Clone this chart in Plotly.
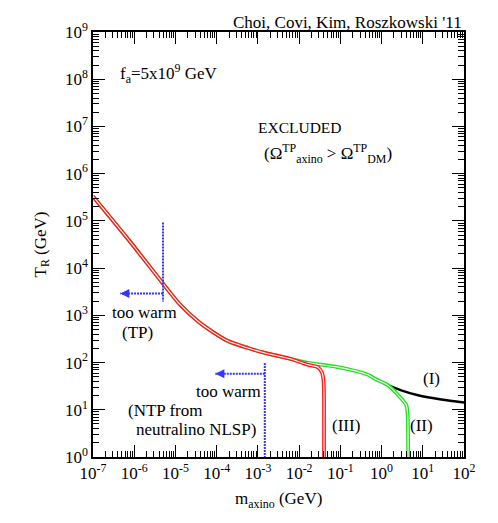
import math
import plotly.graph_objects as go

# ---- data ----
m_shared = [1e-7, 7.06e-7, 4.99e-6, 1.29e-5, 3.52e-5, 8.15e-5, 1.88e-4, 5.75e-4, 1.49e-3, 6.37e-3]
T_shared = [3.30e5, 4.13e4, 4.70e3, 1.70e3, 748, 441, 285, 203, 160, 119]

m_I_tail = [1.64e-2, 8.79e-2, 0.47, 0.68, 1.19, 3.01, 7.67, 28.2, 100]
T_I_tail = [98.4, 80, 55.2, 47.0, 35.7, 25.8, 20.3, 16.5, 14.3]

m_II_tail = [1.64e-2, 8.79e-2, 0.47, 0.68, 1.44, 3.01, 3.99, 4.27, 4.39, 4.39]
T_II_tail = [98.4, 80, 55.2, 45.5, 32.9, 17.3, 12.5, 8.4, 3.0, 0.5]

m_III_tail = [1.64e-2, 2.88e-2, 3.60e-2, 3.91e-2, 4.02e-2, 4.02e-2, 4.02e-2]
T_III_tail = [89.6, 79.3, 60.8, 41.3, 17.3, 5.0, 0.5]

# "too warm" limits
m_tp_limit = [4.99e-6, 4.99e-6]
T_tp_limit = [9.3e4, 1.97e3]
m_tp_arrow = [4.99e-6, 4.6e-7]
T_tp_arrow = [2.9e3, 2.9e3]

m_ntp_limit = [1.47e-3, 1.47e-3]
T_ntp_limit = [98, 0.5]
m_ntp_arrow = [1.47e-3, 9.3e-5]
T_ntp_arrow = [58, 58]

x_tickvals = [1e-7, 1e-6, 1e-5, 1e-4, 1e-3, 1e-2, 1e-1, 1e0, 1e1, 1e2]
x_ticktext = ["10<sup>-7</sup>", "10<sup>-6</sup>", "10<sup>-5</sup>", "10<sup>-4</sup>", "10<sup>-3</sup>",
              "10<sup>-2</sup>", "10<sup>-1</sup>", "10<sup>0</sup>", "10<sup>1</sup>", "10<sup>2</sup>"]
y_tickvals = [1e0, 1e1, 1e2, 1e3, 1e4, 1e5, 1e6, 1e7, 1e8, 1e9]
y_ticktext = ["10<sup>0</sup>", "10<sup>1</sup>", "10<sup>2</sup>", "10<sup>3</sup>", "10<sup>4</sup>",
              "10<sup>5</sup>", "10<sup>6</sup>", "10<sup>7</sup>", "10<sup>8</sup>", "10<sup>9</sup>"]

FONT = "Liberation Serif"
RED = "#ff1a1a"
GREEN = "#22e022"
BLUE = "#3535ff"

fig = go.Figure()

def add_line(x, y, color, width, dash="solid", shape="spline"):
    fig.add_trace(go.Scatter(x=x, y=y, mode="lines",
                             line=dict(color=color, width=width, dash=dash, shape=shape, smoothing=0.8),
                             hoverinfo="skip", showlegend=False))

# (I) black
add_line(m_shared + m_I_tail, T_shared + T_I_tail, "black", 2.5)
# (II) green double line
add_line(m_shared + m_II_tail, T_shared + T_II_tail, GREEN, 3.8)
add_line(m_shared + m_II_tail, T_shared + T_II_tail, "white", 1.1)
# (III) red double line
add_line(m_shared + m_III_tail, T_shared + T_III_tail, RED, 3.8)
add_line(m_shared + m_III_tail, T_shared + T_III_tail, "white", 1.1)

# blue limits
add_line(m_tp_limit, T_tp_limit, BLUE, 2, dash="2px,1px", shape="linear")
add_line(m_tp_arrow, T_tp_arrow, BLUE, 2, dash="2px,1px", shape="linear")
add_line(m_ntp_limit, T_ntp_limit, BLUE, 2, dash="2px,1px", shape="linear")
add_line(m_ntp_arrow, T_ntp_arrow, BLUE, 2, dash="2px,1px", shape="linear")

annotations = []
for mx, ty in [(m_tp_arrow[1], T_tp_arrow[1]), (m_ntp_arrow[1], T_ntp_arrow[1])]:
    annotations.append(dict(x=math.log10(mx), y=math.log10(ty), xref="x", yref="y",
                            ax=8, ay=0, showarrow=True, arrowhead=2, arrowsize=0.9,
                            arrowwidth=2, arrowcolor=BLUE, text=""))

def txt(x, y, s, size=17, xanchor="center", yanchor="middle", xref="x", yref="y", **kw):
    d = dict(x=x, y=y, text=s, showarrow=False, xref=xref, yref=yref, xanchor=xanchor,
             yanchor=yanchor, font=dict(family=FONT, size=size, color="black"))
    d.update(kw)
    annotations.append(d)

txt(1, 1, "Choi, Covi, Kim, Roszkowski '11", xref="paper", yref="paper", xanchor="right", yshift=10)
txt(-6.39, 8.12, "f<sub>a</sub>=5x10<sup>9</sup> GeV", xanchor="left")
txt(-1.98, 6.97, "EXCLUDED", size=15.5)
txt(-1.30, 6.42, "(Ω<sup>TP</sup><sub>axino</sub> &gt; Ω<sup>TP</sup><sub>DM</sub>)")
txt(-5.74, 3.06, "too warm")
txt(-5.93, 2.64, "(TP)")
txt(-2.875, 1.385, "too warm", xanchor="right")
txt(-5.253, 0.99, "(NTP from")
txt(-4.513, 0.585, "neutralino NLSP)")
txt(1.2, 1.66, "(I)")
txt(0.98, 0.67, "(II)")
txt(-0.862, 0.67, "(III)")
txt(0.5, 0, "m<sub>axino</sub> (GeV)", xref="paper", yref="paper", yshift=-43)
txt(0, 0.5, "T<sub>R</sub> (GeV)", xref="paper", yref="paper", xshift=-52, textangle=-90)

axis_common = dict(type="log", showline=True, linecolor="black", linewidth=1.5, mirror="allticks",
                   ticks="inside", ticklen=12, tickwidth=1, tickcolor="black",
                   showgrid=False, zeroline=False,
                   tickfont=dict(family=FONT, size=17, color="black"),
                   minor=dict(ticks="inside", ticklen=6, tickwidth=1, tickcolor="black",
                              dtick="D1", showgrid=False))

fig.update_layout(
    width=498, height=523,
    margin=dict(l=85, r=42, t=20, b=74),
    plot_bgcolor="white", paper_bgcolor="white",
    font=dict(family=FONT, size=17, color="black"),
    xaxis=dict(range=[-7, 2], tickvals=x_tickvals, ticktext=x_ticktext, **axis_common),
    yaxis=dict(range=[0, 9], tickvals=y_tickvals, ticktext=y_ticktext, **axis_common),
    annotations=annotations,
    showlegend=False,
)

fig.write_html("out.html")
